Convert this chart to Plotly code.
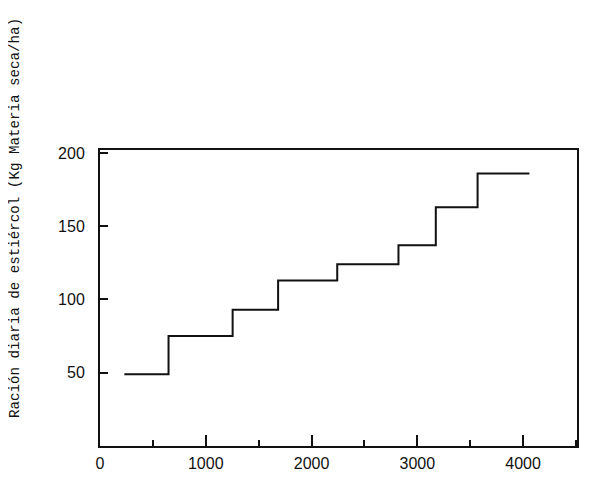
import plotly.graph_objects as go

# Step data
step_x = [230, 648, 1254, 1684, 2243, 2822, 3175, 3570, 4060]
step_y = [49, 75, 93, 113, 124, 137, 163, 186, 186]

x_tickvals = [0, 1000, 2000, 3000, 4000]
x_ticktext = ["0", "1000", "2000", "3000", "4000"]
y_tickvals = [50, 100, 150, 200]
y_ticktext = ["50", "100", "150", "200"]

y_title = "Ración diaria de estiércol (Kg Materia seca/ha)"

# page body has an 8px margin, so the figure is made 8px smaller
OFF = 8
W, H = 600 - OFF, 490 - OFF
L, T = 100 - OFF, 150 - OFF
pw, ph = 477, 296
R = W - L - pw
B = H - T - ph

fig = go.Figure()
fig.add_trace(go.Scatter(
    x=step_x, y=step_y, mode="lines",
    line=dict(shape="hv", color="#111111", width=2),
    showlegend=False, hoverinfo="skip",
))

fig.update_layout(
    width=W, height=H,
    margin=dict(l=L, r=R, t=T, b=B, pad=0),
    paper_bgcolor="white", plot_bgcolor="white",
    font=dict(family="Liberation Sans", size=16, color="#111111"),
    xaxis=dict(
        range=[0, 4510], tickvals=x_tickvals, ticktext=x_ticktext,
        ticks="inside", ticklen=11, tickwidth=2, tickcolor="#111111",
        showline=True, linewidth=2, linecolor="#111111", mirror=True,
        showgrid=False, zeroline=False,
        minor=dict(dtick=500, tick0=0, ticks="inside", ticklen=6, tickwidth=2, tickcolor="#111111", showgrid=False),
        ticklabelstandoff=2,
    ),
    yaxis=dict(
        range=[0, 202], tickvals=y_tickvals, ticktext=y_ticktext,
        ticks="inside", ticklen=8, tickwidth=2, tickcolor="#111111",
        showline=True, linewidth=2, linecolor="#111111", mirror=True,
        showgrid=False, zeroline=False,
        ticklabelstandoff=10,
    ),
    annotations=[dict(
        text=y_title, xref="paper", yref="paper",
        x=(15 - 100) / pw, y=(446 - 218) / ph,
        xanchor="center", yanchor="middle", textangle=-90, showarrow=False,
        font=dict(family="Liberation Mono", size=14.2, color="#111111"),
    )],
)

fig.write_html("out.html")
